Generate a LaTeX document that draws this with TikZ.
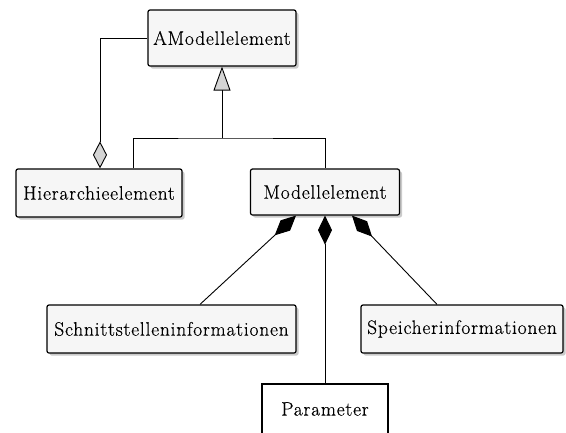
\documentclass[tikz,border=0pt]{standalone}
\usepackage{fontspec}
\setmainfont{Latin Modern Roman}[LetterSpace=4, FakeBold=0.4]
\usetikzlibrary{arrows.meta,shadows}
\definecolor{boxfill}{HTML}{F6F6F6}
\definecolor{tipfill}{HTML}{D4D4D4}
\tikzset{
  umlclass/.style={draw, line width=1.2pt, fill=boxfill, rounded corners=2pt,
    inner sep=0pt, font=\fontsize{19.5}{22}\selectfont,
    drop shadow={shadow xshift=2.5pt, shadow yshift=-2.5pt, fill=black!35, opacity=0.6}},
  plainclass/.style={draw, line width=1.2pt, fill=white, inner sep=0pt,
    font=\fontsize{19.5}{22}\selectfont},
  conn/.style={line width=0.9pt},
  inherit/.style={conn, -{Triangle[open, fill=tipfill, length=24pt, width=17pt]}},
  aggreg/.style={conn, {Diamond[open, fill=tipfill, length=27pt, width=14pt]}-},
  compos/.style={conn, {Diamond[length=29pt, width=14pt]}-},
}
\begin{document}
\begin{tikzpicture}[x=1pt, y=-1pt]
  \useasboundingbox (0,0) rectangle (566,432);

  % classes
  \node[umlclass, minimum width=148pt, minimum height=56pt] (amod) at (222,38) {AModellelement};
  \node[umlclass, minimum width=166pt, minimum height=48pt] (hier) at (99,193) {Hierarchieelement};
  \node[umlclass, minimum width=149pt, minimum height=46pt] (mod) at (325,192) {Modellelement};
  \node[umlclass, minimum width=249pt, minimum height=48pt] (schn) at (171.5,329) {Schnittstelleninformationen};
  \node[umlclass, minimum width=202pt, minimum height=48pt] (spei) at (462,329) {Speicherinformationen};
  \node[plainclass, minimum width=126pt, minimum height=50pt] (para) at (325,409) {Parameter};

  % generalisation
  \coordinate (join) at (222,138);
  \draw[conn] ([xshift=34pt]hier.north) |- (join) -| (mod.north);
  \draw[inherit] (join) -- (amod.south);

  % aggregation
  \draw[aggreg] ([xshift=1pt]hier.north) |- (amod.west);

  % compositions
  \draw[compos] ([xshift=-29pt]mod.south) -- ([xshift=28.5pt]schn.north);
  \draw[compos] (mod.south) -- (para.north);
  \draw[compos] ([xshift=27pt]mod.south) -- ([xshift=-25pt]spei.north);
\end{tikzpicture}
\end{document}
